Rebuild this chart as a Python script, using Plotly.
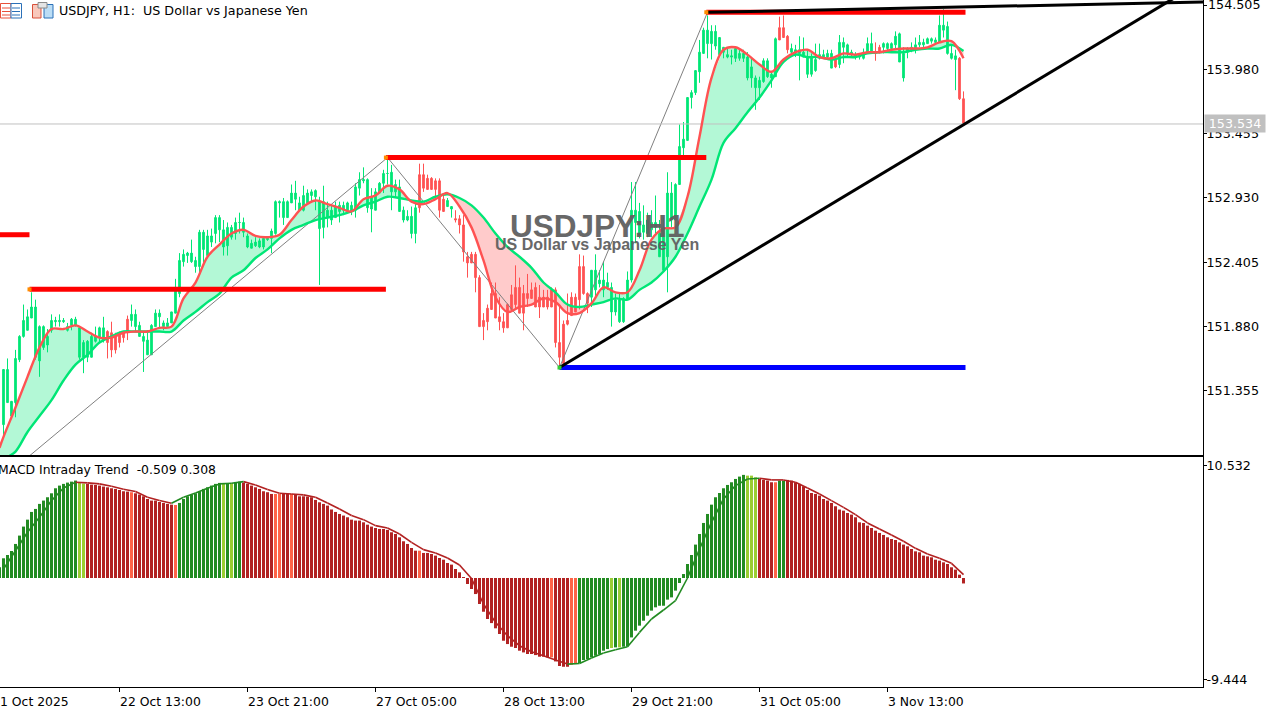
import plotly.graph_objects as go

# --- main pane: candle extremes, grouped in tens of bars (H1 USDJPY)
highs = [
151.53,151.62,151.27,151.69,151.81,152.06,152.02,152.16,152.10,151.89,
151.89,151.86,151.98,151.96,151.98,151.95,151.91,151.95,151.96,151.88,
151.77,151.77,151.83,151.88,151.88,151.96,151.85,151.92,151.83,151.84,
151.84,151.97,152.06,152.02,151.92,151.83,151.85,151.90,152.02,152.02,
151.93,151.95,152.00,152.27,152.48,152.51,152.49,152.59,152.45,152.67,
152.67,152.67,152.68,152.79,152.79,152.75,152.73,152.71,152.77,152.81,
152.77,152.64,152.59,152.61,152.60,152.61,152.60,152.68,152.91,152.91,
152.93,152.91,153.04,153.07,152.94,153.03,153.00,153.00,153.00,152.94,
153.03,152.90,152.87,152.90,152.90,152.90,152.90,152.90,153.05,153.14,
153.18,153.09,153.01,153.01,153.06,153.16,153.26,153.20,153.08,153.08,
152.86,152.83,152.86,152.91,153.21,153.21,153.12,153.10,153.09,153.09,
152.97,152.93,152.86,152.83,152.79,152.79,152.49,152.49,152.49,152.30,
151.99,152.06,152.24,152.24,152.12,151.99,152.07,152.22,152.38,152.28,
152.22,152.31,152.24,152.24,152.22,152.18,152.18,152.20,152.20,152.04,
151.93,152.15,152.16,152.15,152.47,152.46,152.16,152.34,152.47,152.34,
152.41,152.32,152.24,152.15,152.16,152.12,152.33,153.06,153.06,152.89,
152.87,152.81,152.83,152.95,152.75,152.77,153.14,153.06,153.05,153.53,
153.55,153.75,153.81,153.97,154.22,154.32,154.42,154.34,154.34,154.24,
154.16,154.16,154.14,154.15,154.14,154.14,154.12,154.07,153.93,153.92,
154.07,154.07,153.96,154.24,154.41,154.42,154.26,154.19,154.18,154.25,
154.24,154.14,154.11,154.19,154.19,154.14,154.14,154.14,154.07,154.26,
154.24,154.19,154.14,154.12,154.11,154.15,154.24,154.28,154.20,154.18,
154.20,154.20,154.20,154.29,154.28,154.16,154.16,154.20,154.24,154.26,
154.23,154.24,154.24,154.24,154.42,154.47,154.37,154.18,154.14,154.08,
153.80]
body_high = [
151.53,151.53,151.27,151.62,151.80,151.93,151.96,152.04,152.04,151.88,
151.88,151.80,151.93,151.93,151.93,151.93,151.88,151.94,151.94,151.87,
151.75,151.76,151.80,151.80,151.87,151.87,151.84,151.83,151.80,151.83,
151.83,151.94,151.98,151.98,151.89,151.80,151.77,151.89,151.99,151.99,
151.91,151.91,152.00,152.20,152.42,152.47,152.48,152.48,152.42,152.65,
152.65,152.62,152.62,152.77,152.77,152.67,152.69,152.69,152.73,152.73,
152.73,152.62,152.56,152.57,152.58,152.60,152.60,152.66,152.90,152.90,
152.90,152.90,152.97,152.97,152.89,152.95,152.97,152.98,152.99,152.90,
152.90,152.83,152.83,152.86,152.87,152.87,152.89,152.87,153.02,153.08,
153.08,153.08,152.94,152.98,153.05,153.13,153.13,153.14,153.04,153.02,
152.83,152.78,152.78,152.85,153.12,153.12,153.09,153.09,153.07,153.07,
152.92,152.91,152.86,152.76,152.76,152.71,152.45,152.47,152.47,152.28,
151.93,152.03,152.15,152.15,151.96,151.92,152.06,152.14,152.20,152.20,
152.15,152.15,152.18,152.20,152.12,152.12,152.12,152.18,152.18,151.75,
151.90,151.93,152.12,152.12,152.37,152.37,152.15,152.34,152.34,152.26,
152.26,152.24,152.20,152.10,152.10,152.11,152.26,152.83,152.83,152.82,
152.71,152.75,152.73,152.73,152.64,152.67,152.97,152.97,153.04,153.35,
153.41,153.75,153.79,153.97,154.12,154.30,154.30,154.29,154.29,154.24,
154.16,154.10,154.09,154.15,154.11,154.11,154.08,154.00,153.91,153.89,
154.05,154.05,153.94,154.23,154.32,154.32,154.25,154.15,154.14,154.14,
154.12,154.08,154.08,154.06,154.10,154.10,154.11,154.11,154.06,154.20,
154.20,154.18,154.12,154.10,154.10,154.12,154.19,154.19,154.12,154.16,
154.19,154.19,154.19,154.25,154.27,154.11,154.15,154.16,154.18,154.20,
154.20,154.23,154.23,154.22,154.34,154.34,154.33,154.11,154.09,154.07,
153.74]
body_low = [
151.08,151.26,151.15,151.26,151.61,151.80,151.85,151.95,151.63,151.60,
151.71,151.73,151.85,151.92,151.92,151.92,151.85,151.89,151.89,151.63,
151.63,151.63,151.63,151.76,151.79,151.77,151.75,151.69,151.69,151.75,
151.79,151.84,151.93,151.88,151.80,151.76,151.65,151.65,151.88,151.96,
151.88,151.88,151.91,151.99,152.15,152.41,152.46,152.41,152.37,152.37,
152.51,152.46,152.57,152.64,152.67,152.53,152.54,152.61,152.64,152.73,
152.65,152.53,152.52,152.54,152.53,152.53,152.59,152.60,152.64,152.89,
152.77,152.77,152.89,152.92,152.83,152.83,152.89,152.95,152.94,152.68,
152.69,152.77,152.75,152.77,152.82,152.83,152.83,152.82,152.83,153.01,
153.07,152.85,152.84,152.83,152.97,153.05,153.13,152.98,152.98,152.82,
152.75,152.75,152.64,152.64,152.85,153.01,153.00,153.00,153.00,152.83,
152.82,152.86,152.84,152.75,152.71,152.49,152.40,152.40,152.28,151.88,
151.88,151.92,152.02,151.95,151.92,151.87,151.87,152.02,152.06,151.99,
151.99,152.11,152.11,152.04,152.04,152.04,152.04,152.04,151.75,151.63,
151.58,151.90,151.97,152.00,152.10,152.15,152.07,152.12,152.18,152.23,
152.18,152.20,152.00,152.00,151.92,151.92,152.10,152.26,152.73,152.63,
152.65,152.64,152.67,152.69,152.45,152.34,152.45,152.75,152.75,153.04,
153.34,153.40,153.75,153.79,153.96,154.11,154.19,154.19,154.17,154.10,
154.12,154.08,154.08,154.07,154.07,154.07,153.91,153.91,153.83,153.83,
153.88,153.92,153.91,153.92,154.22,154.24,154.14,154.12,154.12,154.11,
154.08,153.94,153.94,153.97,154.07,154.07,154.08,153.99,154.00,154.02,
154.16,154.11,154.10,154.08,154.08,154.07,154.12,154.12,154.11,154.12,
154.16,154.15,154.15,154.18,154.04,153.91,154.12,154.14,154.14,154.18,
154.18,154.19,154.21,154.20,154.20,154.30,154.11,154.07,154.06,153.74,
153.54]
lows = [
150.98,151.26,151.13,151.14,151.59,151.79,151.85,151.95,151.61,151.47,
151.69,151.67,151.83,151.88,151.88,151.91,151.84,151.85,151.88,151.61,
151.50,151.59,151.63,151.75,151.75,151.75,151.62,151.63,151.66,151.71,
151.75,151.77,151.88,151.84,151.80,151.51,151.65,151.65,151.88,151.87,
151.85,151.88,151.91,151.99,152.12,152.37,152.40,152.40,152.32,152.32,
152.40,152.45,152.53,152.56,152.57,152.46,152.46,152.59,152.59,152.64,
152.61,152.52,152.52,152.53,152.52,152.51,152.58,152.48,152.63,152.77,
152.71,152.77,152.89,152.83,152.82,152.82,152.89,152.90,152.83,152.22,
152.60,152.69,152.71,152.77,152.73,152.79,152.82,152.79,152.77,152.95,
153.05,152.81,152.65,152.83,152.97,152.97,153.04,152.83,152.93,152.82,
152.73,152.74,152.60,152.56,152.81,152.98,153.00,153.00,152.93,152.77,
152.82,152.86,152.77,152.73,152.64,152.41,152.28,152.40,152.16,151.88,
151.77,151.85,152.02,151.95,151.85,151.83,151.87,152.02,152.02,151.99,
151.85,152.04,152.11,152.04,151.95,152.04,152.02,152.04,151.71,151.55,
151.58,151.89,151.97,152.00,152.02,152.14,151.99,152.04,152.12,152.20,
152.12,152.18,151.88,151.97,151.91,151.91,152.10,152.24,152.56,152.60,
152.59,152.61,152.61,152.64,152.45,152.34,152.16,152.69,152.75,153.04,
153.24,153.40,153.66,153.77,153.87,154.11,154.07,154.06,154.14,154.10,
154.07,154.07,154.02,154.04,154.05,154.04,153.89,153.83,153.65,153.73,
153.87,153.91,153.83,153.92,154.22,154.24,154.11,154.10,154.08,153.89,
154.08,153.91,153.92,153.96,154.06,154.07,154.06,153.99,153.99,153.99,
154.03,154.08,154.08,154.06,154.06,154.06,154.12,154.11,154.05,154.11,
154.11,154.12,154.12,154.15,154.04,153.88,154.07,154.12,154.11,154.16,
154.16,154.19,154.19,154.19,154.20,154.24,154.10,154.06,153.81,153.73,
153.53]
red_candle_runs = [(26, 31), (104, 110), (113, 146), (194, 196), (208, 208), (218, 219), (239, 240)]

# moving averages, read every third bar (plus the first bar at the left edge)
ma_bars = [-1] + list(range(0, 241, 3))
ma_fast = [150.89,
150.98,151.22,151.47,151.71,151.86,151.86,151.89,151.84,151.79,151.79,
151.83,151.84,151.84,151.87,151.88,152.11,152.24,152.45,152.55,152.64,
152.67,152.62,152.61,152.63,152.75,152.86,152.91,152.88,152.85,152.82,
152.92,152.95,153.03,153.00,152.90,152.88,152.92,152.97,152.86,152.69,
152.42,152.12,152.00,152.04,152.06,152.11,152.08,151.99,151.99,152.07,
152.20,152.16,152.16,152.34,152.59,152.68,152.69,152.94,153.43,153.91,
154.14,154.16,154.10,154.02,153.96,154.06,154.12,154.14,154.08,154.07,
154.11,154.10,154.12,154.12,154.14,154.15,154.15,154.16,154.20,154.21,
154.07]
ma_slow = [150.72,
150.79,150.86,151.02,151.15,151.28,151.44,151.57,151.65,151.75,151.80,
151.84,151.84,151.84,151.84,151.84,151.93,152.00,152.08,152.15,152.28,
152.34,152.44,152.51,152.60,152.67,152.71,152.75,152.77,152.79,152.82,
152.87,152.90,152.94,152.93,152.91,152.90,152.94,152.96,152.93,152.87,
152.77,152.64,152.53,152.45,152.36,152.24,152.16,152.06,152.04,152.06,
152.08,152.11,152.10,152.18,152.24,152.33,152.45,152.64,152.86,153.08,
153.38,153.50,153.63,153.75,153.89,154.04,154.10,154.08,154.08,154.06,
154.08,154.08,154.11,154.12,154.12,154.12,154.14,154.15,154.15,154.18,
154.13]

# levels and swing lines: (first bar, last bar, price)
red_levels = [(-1, 6.5, 152.63), (6.5, 95.6, 152.184), (95.6, 175.7, 153.26), (175.7, 240.5, 154.446)]
blue_level = (139, 240.5, 151.546)
swing_bars = [3, 96, 139, 176]
swing_prices = [150.73, 153.26, 151.546, 154.446]
pivot_bars = [6.5, 95.6, 139, 175.7]
pivot_prices = [152.184, 153.26, 151.546, 154.446]
trend_up_bars = [139, 300]
trend_up_prices = [151.546, 154.706]
trend_top_bars = [176, 300]
trend_top_prices = [154.445, 154.53]
last_price = 153.534

# MACD pane
hist_bars = list(range(-1, 241))
macd_hist = [1.00,
1.84,2.15,2.52,3.18,3.96,4.80,5.45,6.17,6.45,6.92,
7.23,7.54,7.91,8.38,8.63,8.79,8.91,9.00,9.10,8.88,
8.82,8.79,8.72,8.69,8.63,8.54,8.47,8.38,8.32,8.22,
8.10,8.07,8.01,7.91,7.79,7.63,7.38,7.23,7.23,7.10,
7.01,6.92,6.85,6.82,7.01,7.38,7.63,7.79,7.91,8.10,
8.32,8.47,8.63,8.79,8.88,8.79,8.79,8.85,8.97,9.00,
8.91,8.79,8.63,8.47,8.32,8.10,8.01,7.85,7.85,7.85,
7.85,7.85,7.85,7.76,7.63,7.63,7.60,7.54,7.29,7.07,
6.92,6.76,6.40,6.17,5.98,5.83,5.67,5.45,5.36,5.36,
5.20,4.98,4.80,4.67,4.58,4.58,4.49,4.27,4.11,3.80,
3.43,3.18,2.80,2.55,2.55,2.34,2.34,2.24,2.09,1.87,
1.71,1.40,1.25,0.84,0.53,0.06,-0.56,-1.03,-1.50,-2.43,
-3.15,-3.83,-4.21,-4.70,-5.23,-5.86,-6.17,-6.42,-6.54,-6.79,
-6.95,-7.10,-7.10,-7.20,-7.35,-7.35,-7.41,-7.41,-7.79,-8.22,
-8.29,-8.29,-8.10,-8.04,-7.94,-7.66,-7.57,-7.41,-7.26,-7.10,
-6.79,-6.64,-6.54,-6.48,-6.48,-6.42,-6.39,-5.55,-4.92,-4.45,
-3.99,-3.52,-3.05,-2.74,-2.59,-2.59,-2.02,-1.81,-1.18,-0.47,
0.37,1.31,2.15,3.12,4.11,5.14,5.98,6.85,7.54,7.94,
8.38,8.69,8.94,9.25,9.47,9.63,9.56,9.56,9.41,9.25,
9.16,9.10,8.94,8.94,9.10,9.10,9.16,9.10,8.94,8.79,
8.57,8.22,7.94,7.85,7.69,7.38,7.23,7.01,6.70,6.39,
6.29,6.07,5.92,5.67,5.20,5.14,4.89,4.67,4.42,4.21,
4.02,3.80,3.64,3.55,3.33,3.12,2.96,2.71,2.49,2.40,
2.09,2.02,1.93,1.71,1.62,1.46,1.31,1.00,0.78,0.31,
-0.51]
signal_bars = list(range(0, 241, 3))
macd_signal = [
0.84,2.55,4.27,5.67,7.23,8.41,8.94,8.88,8.79,8.57,
8.29,8.07,7.54,7.23,6.98,7.54,7.94,8.38,8.79,8.85,
9.00,8.69,8.26,7.91,7.85,7.76,7.54,7.01,6.45,5.83,
5.45,4.89,4.67,4.11,3.33,2.65,2.34,1.87,1.21,-0.05,
-2.43,-4.14,-5.39,-6.32,-6.88,-7.26,-7.66,-8.04,-7.98,-7.48,
-7.01,-6.70,-6.42,-5.08,-3.83,-2.99,-2.12,0.00,2.71,5.20,
7.38,8.63,9.25,9.31,9.16,9.16,8.94,8.41,7.85,7.23,
6.60,5.92,5.14,4.58,4.02,3.43,2.77,2.24,1.84,1.37,
0.31]
hist_green_runs = [(-1, 18), (44, 54), (56, 56), (58, 59), (144, 151), (153, 153), (155, 185), (194, 195)]
hist_lime_runs = [(19, 20), (55, 55), (57, 57), (152, 152), (154, 154), (186, 188)]
hist_tomato_bars = [32, 43, 68, 69, 72, 104, 137, 142, 143, 193]

y_ticks = [154.505, 153.980, 153.455, 152.930, 152.405, 151.880, 151.355]
macd_ticks = [10.532, -9.444]
time_tick_bars = [29, 61, 93, 125, 157, 189, 221]
time_tick_labels = ["22 Oct 13:00", "23 Oct 21:00", "27 Oct 05:00", "28 Oct 13:00",
                    "29 Oct 21:00", "31 Oct 05:00", "3 Nov 13:00"]

assert all(len(s) == 241 for s in (highs, body_high, body_low, lows))
assert len(macd_hist) == len(hist_bars)
assert len(ma_fast) == len(ma_bars) == len(ma_slow)
assert len(signal_bars) == len(macd_signal)

GREEN, RED = "#00E676", "#FF5252"
W, H, PANE_R = 1279, 711, 1203
FONT = "DejaVu Sans"
TXT = 12.7
px = lambda v: v / W
py = lambda v: 1 - v / H

fig = go.Figure()
bars = list(range(241))
is_red = [any(a <= k <= b for a, b in red_candle_runs) for k in bars]
for flag, col in ((False, GREEN), (True, RED)):
    idx = [k for k in bars if is_red[k] == flag]
    fig.add_trace(go.Candlestick(
        x=idx,
        open=[body_low[k] for k in idx], close=[body_high[k] for k in idx],
        high=[highs[k] for k in idx], low=[lows[k] for k in idx],
        increasing=dict(line=dict(color=col, width=1), fillcolor=col),
        decreasing=dict(line=dict(color=col, width=1), fillcolor=col),
        whiskerwidth=0, xaxis="x", yaxis="y", showlegend=False, hoverinfo="skip"))

# cloud between the averages, split where they cross
shapes = []
def cloud(xs, a, b, col):
    pts = [f"{x},{y}" for x, y in zip(xs, a)] + [f"{x},{y}" for x, y in zip(xs[::-1], b[::-1])]
    shapes.append(dict(type="path", path="M" + " L".join(pts) + " Z", xref="x", yref="y",
                       fillcolor=col, line=dict(width=0), layer="below"))
run_x, run_f, run_s = [ma_bars[0]], [ma_fast[0]], [ma_slow[0]]
for i in range(1, len(ma_bars)):
    d0, d1 = ma_fast[i - 1] - ma_slow[i - 1], ma_fast[i] - ma_slow[i]
    if d0 * d1 < 0:
        t = d0 / (d0 - d1)
        xc = ma_bars[i - 1] + t * (ma_bars[i] - ma_bars[i - 1])
        yc = ma_fast[i - 1] + t * (ma_fast[i] - ma_fast[i - 1])
        run_x.append(xc); run_f.append(yc); run_s.append(yc)
        cloud(run_x, run_f, run_s, "#FFCBCB" if d0 < 0 else "#B3F8D6")
        run_x, run_f, run_s = [xc], [yc], [yc]
    run_x.append(ma_bars[i]); run_f.append(ma_fast[i]); run_s.append(ma_slow[i])
cloud(run_x, run_f, run_s, "#FFCBCB" if ma_fast[-1] < ma_slow[-1] else "#B3F8D6")

def line(x, y, col, w, xa="x", ya="y", shape="linear"):
    fig.add_trace(go.Scatter(x=x, y=y, mode="lines", line=dict(color=col, width=w, shape=shape), xaxis=xa, yaxis=ya,
                             showlegend=False, hoverinfo="skip"))

line(swing_bars, swing_prices, "#808080", 1)
line([-1, 300], [last_price, last_price], "#C0C0C0", 1)
line(ma_bars, ma_slow, GREEN, 2.4, shape="spline")
line(ma_bars, ma_fast, RED, 2.4, shape="spline")
for a, b, p in red_levels:
    line([a, b], [p, p], "#FF0000", 5)
line(blue_level[:2], [blue_level[2]] * 2, "#0000FF", 5)
line(trend_top_bars, trend_top_prices, "#000000", 3)
line(trend_up_bars, trend_up_prices, "#000000", 3)
fig.add_trace(go.Scatter(x=pivot_bars, y=pivot_prices, mode="markers",
                         marker=dict(symbol="square", size=4, color=["#FF8C00", "#FF8C00", "#32CD32", "#FF8C00"]),
                         xaxis="x", yaxis="y", showlegend=False, hoverinfo="skip"))

# MACD pane
def hist_colour(k):
    if any(a <= k <= b for a, b in hist_green_runs):
        return "#228B22"
    if any(a <= k <= b for a, b in hist_lime_runs):
        return "#9ACD32"
    if k in hist_tomato_bars:
        return "#FF6347"
    return "#B22222"
fig.add_trace(go.Bar(x=hist_bars, y=macd_hist, width=0.75,
                     marker=dict(color=[hist_colour(k) for k in hist_bars], line=dict(width=0)),
                     xaxis="x2", yaxis="y2", showlegend=False, hoverinfo="skip"))
for rising, col in ((False, "#B22222"), (True, "#228B22")):
    xs, ys = [], []
    for i in range(1, len(signal_bars)):
        if (macd_signal[i] > macd_signal[i - 1]) == rising:
            xs += [signal_bars[i - 1], signal_bars[i], None]
            ys += [macd_signal[i - 1], macd_signal[i], None]
    line(xs, ys, col, 1.6, "x2", "y2")

# toolbar icons of the terminal header
def rect(x0, y0, x1, y1, fill, border=None):
    shapes.append(dict(type="rect", xref="paper", yref="paper", x0=px(x0), x1=px(x1), y0=py(y0), y1=py(y1),
                       fillcolor=fill, line=dict(color=border or fill, width=1 if border else 0)))
rect(0.5, 3.5, 11, 18, "#FFFFFF", "#E8503A")
rect(11, 3.5, 21.5, 18, "#FFFFFF", "#2A70B8")
for yy in (7.5, 11, 14.5):
    rect(2, yy, 10, yy + 1, "#E8503A")
    rect(12, yy, 20, yy + 1, "#2A70B8")
rect(32.5, 4.5, 41, 18, "#F8C8BC", "#D8503A")
rect(44, 4.5, 53, 18, "#BBDDF5", "#2A70B8")
rect(38, 2.5, 47, 8, "#E4E4E4", "#8A8A8A")

# text
anns = []
def text(x, y, s, size=TXT, color="#000000", anchor="left", family=FONT, **kw):
    anns.append(dict(xref="paper", yref="paper", x=px(x), y=py(y), text=s, showarrow=False, xanchor=anchor,
                     yanchor="middle", font=dict(family=family, size=size, color=color), **kw))
text(57, 11, "USDJPY, H1:  US Dollar vs Japanese Yen")
text(-4, 469, "MACD Intraday Trend  -0.509 0.308", size=12.4)
text(-2, 701, "1 Oct 2025", size=12.4)
for k, lab in zip(time_tick_bars, time_tick_labels):
    text((k + 0.875) * 4 - 2, 701, lab, size=12.4)
text(1206, 5, f"{y_ticks[0]:.3f}")
text(597, 226, "<b>USDJPY:H1</b>", 31.5, "#606060", "center", "Liberation Sans", opacity=0.95)
text(597, 245, "<b>US Dollar vs Japanese Yen</b>", 16, "#606060", "center", "Liberation Sans", opacity=0.95)
text(1235, 123.5, "153.534", TXT, "#FFFFFF", "center", bgcolor="#C0C0C0", width=60, height=17, borderpad=0)

axis_common = dict(showgrid=False, zeroline=False, showline=True, linecolor="#000000", linewidth=1)
fig.update_layout(
    width=W, height=H, margin=dict(l=0, r=0, t=0, b=0), paper_bgcolor="#FFFFFF", plot_bgcolor="#FFFFFF",
    showlegend=False, shapes=shapes, annotations=anns, boxmode="overlay", boxgap=0.4, dragmode=False,
    font=dict(family=FONT, size=TXT, color="#000000"), hovermode=False,
    xaxis=dict(domain=[0, PANE_R / W], range=[-0.875, 299.875], anchor="y", rangeslider=dict(visible=False),
               showticklabels=False, ticks="", **axis_common),
    yaxis=dict(domain=[py(455), 1], range=[150.832, 154.546], side="right", anchor="x", tickmode="array",
               tickvals=y_ticks, ticktext=[""] + [f"{v:.3f}" for v in y_ticks[1:]], ticks="outside", ticklen=3,
               ticklabelstandoff=-3, tickcolor="#000000", **axis_common),
    xaxis2=dict(domain=[0, PANE_R / W], range=[-0.875, 299.875], anchor="y2", tickmode="array",
                tickvals=time_tick_bars, ticktext=[""] * len(time_tick_bars), ticks="outside", ticklen=4,
                tickcolor="#000000", mirror=True, **axis_common),
    yaxis2=dict(domain=[py(687), py(457)], range=[-10.18, 11.30], side="right", anchor="x2", tickmode="array",
                tickvals=macd_ticks, ticktext=[f"{v:.3f}" for v in macd_ticks], ticks="outside", ticklen=3,
                ticklabelstandoff=-3, tickcolor="#000000", **axis_common),
)
fig.write_html("out.html", config={"displayModeBar": False}, post_script="document.body.style.margin='0';")
